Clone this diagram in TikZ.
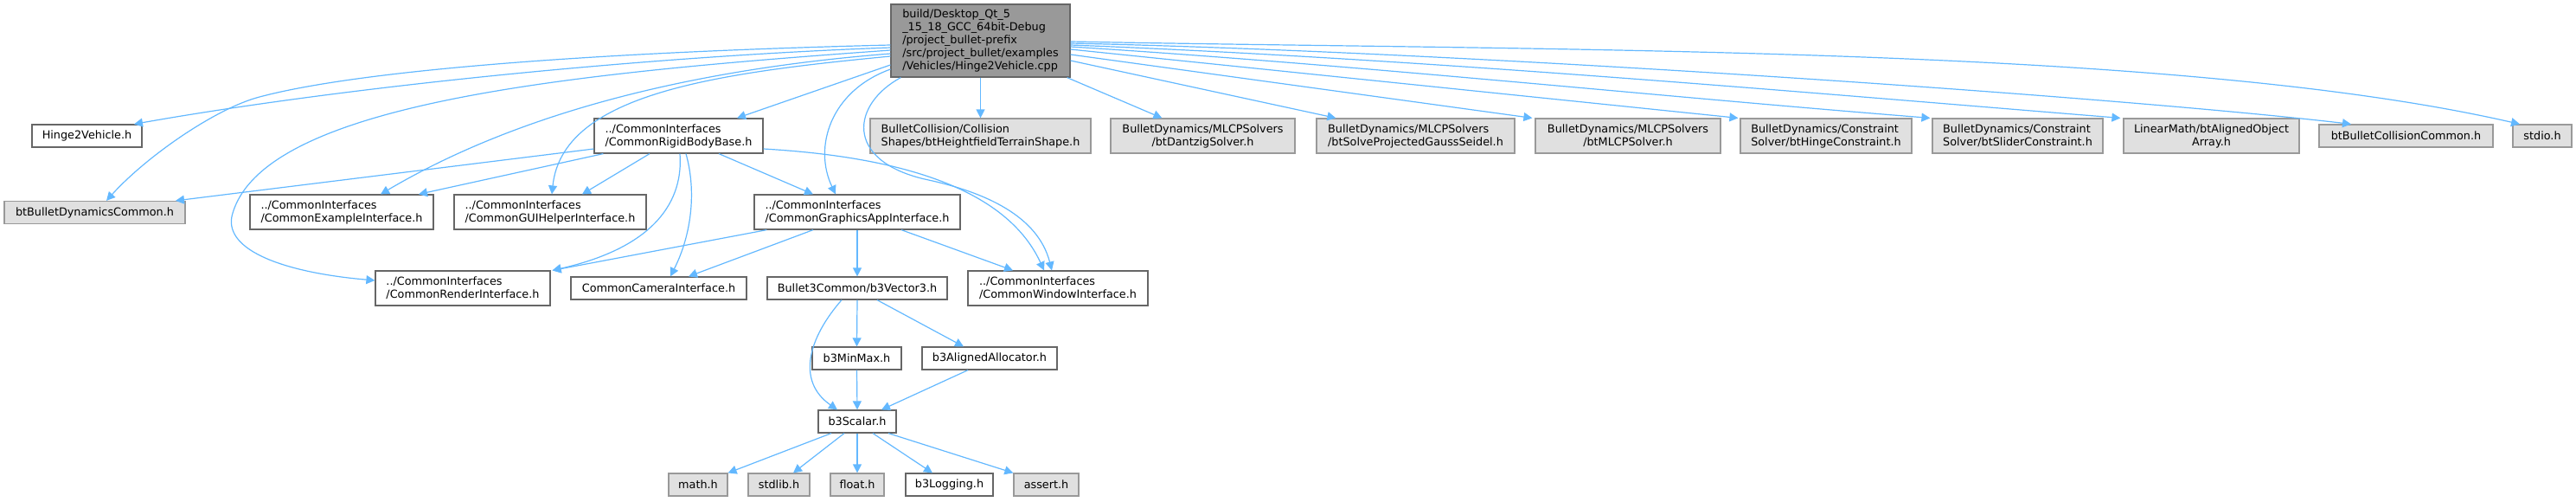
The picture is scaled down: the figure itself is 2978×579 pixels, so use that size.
\documentclass[tikz,border=0pt]{standalone}
\usepackage{fontspec}
\setmainfont{DejaVu Sans}
\usetikzlibrary{arrows.meta,calc}
\definecolor{edgec}{HTML}{63B8FF}
\definecolor{bordc}{HTML}{666666}
\definecolor{gbord}{HTML}{999999}
\definecolor{gfill}{HTML}{E0E0E0}
\definecolor{mfill}{HTML}{999999}
\begin{document}
\begin{tikzpicture}[x=0.5pt,y=-0.5pt,
  nb/.style={draw=bordc,fill=white,line width=0.6pt,inner sep=0pt,
    font=\fontsize{6.4}{7.5}\selectfont,text=black},
  gb/.style={nb,draw=gbord,fill=gfill},
  mb/.style={nb,fill=mfill},
  sz/.style 2 args={minimum width=#1,minimum height=#2},
  ed/.style={draw=edgec,line width=0.6pt,-{Triangle[length=5pt,width=5pt]}}]
\useasboundingbox (0,0) rectangle (2978,579);
% nodes
\node[mb,sz={103.5pt}{42pt},align=left] (main) at (1133.5,47)
  {build/Desktop\_Qt\_5\\\_15\_18\_GCC\_64bit-Debug\\/project\_bullet-prefix\\/src/project\_bullet/examples\\/Vehicles/Hinge2Vehicle.cpp};
\node[nb,sz={63.5pt}{13pt}] (hinge) at (100.5,157) {Hinge2Vehicle.h};
\node[gb,sz={104.5pt}{13pt}] (btdyn) at (109.5,245.5) {btBulletDynamicsCommon.h};
\node[nb,sz={97.5pt}{20pt},align=left] (rigid) at (784.5,157) {../CommonInterfaces\\/CommonRigidBodyBase.h};
\node[nb,sz={106pt}{20pt},align=left] (example) at (395,245) {../CommonInterfaces\\/CommonExampleInterface.h};
\node[nb,sz={111pt}{20pt},align=left] (gui) at (636,245) {../CommonInterfaces\\/CommonGUIHelperInterface.h};
\node[nb,sz={119pt}{20pt},align=left] (graphics) at (991,245) {../CommonInterfaces\\/CommonGraphicsAppInterface.h};
\node[nb,sz={101pt}{20pt},align=left] (render) at (535,333) {../CommonInterfaces\\/CommonRenderInterface.h};
\node[nb,sz={101.5pt}{13pt}] (camera) at (761.5,333) {CommonCameraInterface.h};
\node[nb,sz={104pt}{13pt}] (vector) at (991,333) {Bullet3Common/b3Vector3.h};
\node[nb,sz={104pt}{20pt},align=left] (window) at (1223,333) {../CommonInterfaces\\/CommonWindowInterface.h};
\node[nb,sz={51.5pt}{13pt}] (minmax) at (990.5,414) {b3MinMax.h};
\node[nb,sz={78pt}{13pt}] (aligned) at (1144,414) {b3AlignedAllocator.h};
\node[nb,sz={45pt}{13pt}] (scalar) at (991,487) {b3Scalar.h};
\node[gb,sz={34pt}{13pt}] (math) at (807,560) {math.h};
\node[gb,sz={35.5pt}{13pt}] (stdlib) at (900.5,560) {stdlib.h};
\node[gb,sz={31pt}{13pt}] (float) at (991,560) {float.h};
\node[nb,sz={50.5pt}{13pt}] (logging) at (1097.5,560) {b3Logging.h};
\node[gb,sz={37.5pt}{13pt}] (assert) at (1209.5,560) {assert.h};
\node[gb,sz={127.5pt}{20pt},align=left] (height) at (1133.5,157) {BulletCollision/Collision\\Shapes/btHeightfieldTerrainShape.h};
\node[gb,sz={106.5pt}{20pt},align=center] (dantzig) at (1390.5,157) {BulletDynamics/MLCPSolvers\\/btDantzigSolver.h};
\node[gb,sz={114.5pt}{20pt},align=left] (gauss) at (1636.5,157) {BulletDynamics/MLCPSolvers\\/btSolveProjectedGaussSeidel.h};
\node[gb,sz={107pt}{20pt},align=center] (mlcp) at (1882,157) {BulletDynamics/MLCPSolvers\\/btMLCPSolver.h};
\node[gb,sz={99pt}{20pt},align=left] (hingec) at (2111,157) {BulletDynamics/Constraint\\Solver/btHingeConstraint.h};
\node[gb,sz={98.5pt}{20pt},align=left] (slider) at (2332.5,157) {BulletDynamics/Constraint\\Solver/btSliderConstraint.h};
\node[gb,sz={101.5pt}{20pt},align=center] (alarr) at (2556.5,157) {LinearMath/btAlignedObject\\Array.h};
\node[gb,sz={100.5pt}{13pt}] (btcoll) at (2781.5,157) {btBulletCollisionCommon.h};
\node[gb,sz={34pt}{13pt}] (stdio) at (2939,157) {stdio.h};
% main, left side
\draw[ed] ($(main.west)+(0,5)$) .. controls (700,60) and (420,80) .. (300,112) .. controls (250,125) and (170,180) .. ($(btdyn.north)+(13.5,0)$);
\draw[ed] ($(main.west)+(0,8)$) .. controls (750,65) and (400,100) .. ($(hinge.north)+(54.5,0)$);
\draw[ed] ($(main.west)+(0,11)$) .. controls (650,85) and (300,120) .. (268,250) .. controls (260,290) and (330,315) .. ($(render.west)+(0,-9)$);
\draw[ed] ($(main.west)+(0,15)$) .. controls (800,80) and (600,130) .. ($(example.north)+(45,0)$);
\draw[ed] ($(main.west)+(0,18)$) .. controls (820,85) and (650,110) .. ($(gui.north)+(2,0)$);
\draw[ed] ($(main.west)+(0,28)$) -- ($(rigid.north)+(67.5,0)$);
\draw[ed] ($(main.west)+(0,33)$) .. controls (960,105) and (940,170) .. ($(graphics.north)+(-25,0)$);
\draw[ed] ($(main.south west)+(12,0)$) .. controls (985,120) and (975,185) .. (1069,207) .. controls (1140,222) and (1200,250) .. ($(window.north)+(-7,0)$);
% main, right side
\draw[ed] ($(main.east)+(0,1)$) .. controls (1800,59) and (2513,52) .. ($(stdio.north)+(-26,0)$);
\draw[ed] ($(main.east)+(0,3)$) .. controls (1700,60) and (2450,112) .. ($(btcoll.north)+(-63.5,0)$);
\draw[ed] ($(main.east)+(0,5)$) .. controls (1650,68) and (2100,108) .. ($(alarr.north west)+(-3,0)$);
\draw[ed] ($(main.east)+(0,7)$) .. controls (1570,75) and (1900,110) .. ($(slider.north west)+(-2,0)$);
\draw[ed] ($(main.east)+(0,10)$) -- ($(hingec.north west)+(-2,0)$);
\draw[ed] ($(main.east)+(0,16)$) -- ($(mlcp.north west)+(-3,0)$);
\draw[ed] ($(main.east)+(0,23)$) -- ($(gauss.north west)+(23,0)$);
\draw[ed] ($(main.south east)+(-4,0)$) -- ($(dantzig.north west)+(60,0)$);
\draw[ed] (main.south) -- (height.north);
% rigid body base
\draw[ed] ($(rigid.west)+(0,15)$) -- ($(btdyn.north)+(93.5,0)$);
\draw[ed] ($(rigid.south west)+(11,0)$) -- ($(example.north)+(89,0)$);
\draw[ed] ($(rigid.south)+(-33.5,0)$) -- ($(gui.north)+(37,0)$);
\draw[ed] ($(rigid.south)+(46.5,0)$) -- ($(graphics.north)+(-51,0)$);
\draw[ed] ($(rigid.south)+(1.5,0)$) .. controls (790,230) and (760,285) .. ($(render.north east)+(2,0)$);
\draw[ed] ($(rigid.south)+(8.5,0)$) .. controls (805,220) and (800,270) .. ($(camera.north)+(13.5,0)$);
\draw[ed] ($(rigid.east)+(0,15)$) .. controls (1020,180) and (1160,210) .. ($(window.north)+(-16,0)$);
% graphics app
\draw[ed] ($(graphics.south west)+(15,0)$) -- ($(render.north east)+(2,0)$);
\draw[ed] ($(graphics.south)+(-51,0)$) -- ($(camera.north)+(34.5,0)$);
\draw[ed] (graphics.south) -- (vector.north);
\draw[ed] ($(graphics.south)+(51,0)$) -- ($(window.north)+(-52,0)$);
% vector3
\draw[ed] (vector.south) -- (minmax.north);
\draw[ed] ($(vector.south)+(23,0)$) -- ($(aligned.north)+(-30,0)$);
\draw[ed] ($(vector.south)+(-18,0)$) .. controls (935,390) and (920,440) .. ($(scalar.north)+(-23,0)$);
\draw[ed] (minmax.south) -- (scalar.north);
\draw[ed] ($(aligned.south)+(-25,0)$) -- ($(scalar.north)+(28,0)$);
% scalar
\draw[ed] ($(scalar.south)+(-30,0)$) -- (math.north east);
\draw[ed] ($(scalar.south)+(-15,0)$) -- ($(stdlib.north)+(16.5,0)$);
\draw[ed] (scalar.south) -- (float.north);
\draw[ed] ($(scalar.south)+(18,0)$) -- ($(logging.north)+(-19.5,0)$);
\draw[ed] ($(scalar.south)+(36,0)$) -- (assert.north west);
\end{tikzpicture}
\end{document}
